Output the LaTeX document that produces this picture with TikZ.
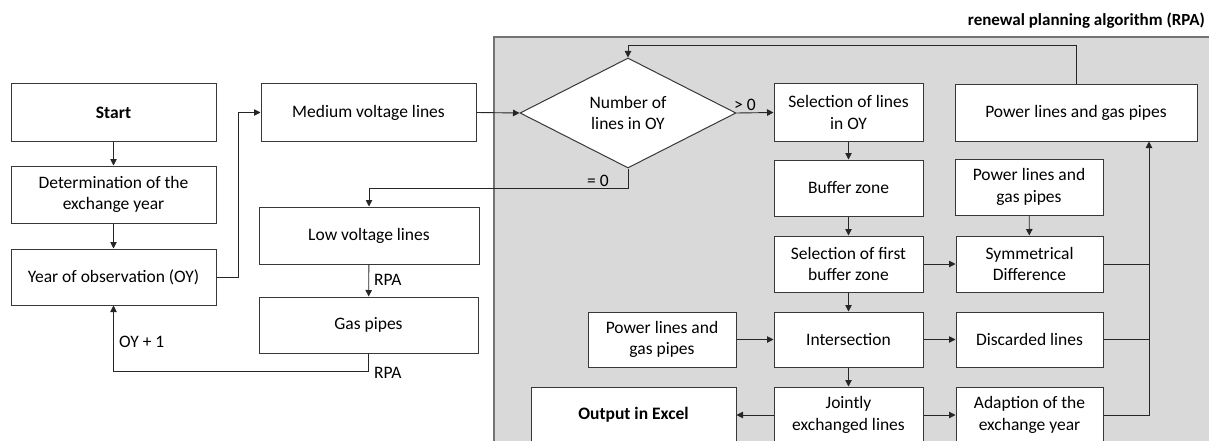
\documentclass[tikz,border=0pt]{standalone}
\usepackage{fontspec}
\setmainfont{Carlito}
\usetikzlibrary{arrows.meta,shapes.geometric}
\begin{document}
\begin{tikzpicture}[x=1pt,y=-1pt,
  txt/.style={font=\fontsize{17.5}{21.5}\selectfont},
  box/.style={txt,draw=black!78,line width=1pt,fill=white,inner sep=0pt,align=center},
  cbox/.style={box,minimum width=149pt,minimum height=56pt},
  arr/.style={-{Triangle[length=6.5pt,width=6.5pt]},line width=0.9pt,draw=black!85},
  ln/.style={line width=0.9pt,draw=black!85},
  lbl/.style={txt,inner sep=0pt}]
\useasboundingbox (0,0) rectangle (1209,441);
\clip (0,0) rectangle (1209,441);
% RPA region
\fill[black!15] (494,37) rectangle (1230,460);
\draw[black!55,line width=1.2pt] (1230,37) -- (494,37) -- (494,460);
\node[anchor=base east,inner sep=0pt,font=\fontsize{17}{20}\selectfont\bfseries] (title) at (1205,26) {renewal planning algorithm (RPA)};
% left part
\node[box,minimum width=205pt,minimum height=57pt] (start) at (113.5,112.5) {\textbf{Start}};
\node[box,minimum width=205pt,minimum height=57pt] (det) at (113.5,194.5) {Determination of the\\exchange year};
\node[box,minimum width=205pt,minimum height=56pt] (year) at (113.5,277) {Year of observation (OY)};
\node[box,minimum width=215pt,minimum height=57pt] (medium) at (368.5,112.5) {Medium voltage lines};
\node[box,minimum width=220pt,minimum height=57pt] (low) at (369,235.5) {Low voltage lines};
\node[box,minimum width=219pt,minimum height=56pt] (gas) at (368.5,325) {Gas pipes};
% RPA part
\node[txt,draw=black!78,line width=1pt,fill=white,diamond,aspect=2,inner sep=0pt,
  minimum width=216pt,minimum height=110pt,align=center] (dia) at (628,113) {Number of\\lines in OY};
\node[cbox,minimum height=57pt] (sel) at (848.5,112.5) {Selection of lines\\in OY};
\node[box,minimum width=242pt,minimum height=56pt] (pgtop) at (1076,113) {Power lines and gas pipes};
\node[cbox] (buffer) at (848.5,188) {Buffer zone};
\node[cbox,minimum width=148pt] (pg2) at (1029,187) {Power lines and\\gas pipes};
\node[cbox] (selfirst) at (848.5,264) {Selection of first\\buffer zone};
\node[cbox,minimum width=147pt] (sym) at (1029.5,264) {Symmetrical\\Difference};
\node[cbox,minimum height=55pt] (inter) at (848.5,339.5) {Intersection};
\node[cbox,minimum width=148pt,minimum height=55pt] (pgleft) at (662,339.5) {Power lines and\\gas pipes};
\node[cbox,minimum width=147pt,minimum height=55pt] (disc) at (1029.5,339.5) {Discarded lines};
\node[cbox] (joint) at (848.5,415) {Jointly\\exchanged lines};
\node[cbox,minimum width=147pt] (adapt) at (1029.5,415) {Adaption of the\\exchange year};
\node[box,minimum width=205pt,minimum height=56pt] (output) at (633.5,415) {\textbf{Output in Excel}};
\coordinate (tk) at (1149,0);
% connectors left
\draw[arr] (start) -- (det);
\draw[arr] (det) -- (year);
\draw[arr] (year.east) -| ([xshift=-22pt]medium.west) -- (medium.west);
\draw[arr] (medium.east) -- (dia.west);
\draw[arr] (dia.east) -- (sel.west);
\node[lbl] (gt) at (745,105) {> 0};
\draw[arr] (dia.south) -- ++(0,20) -| (low.north);
\node[lbl] (eq) at (598,181) {= 0};
\draw[arr] (low) -- (gas);
\node[lbl,anchor=west] (rpa1) at (374,280) {RPA};
\draw[arr] (gas.south) -- ++(0,18) -| (year.south);
\node[lbl,anchor=west] (oy) at (119,342) {OY + 1};
\node[lbl,anchor=west] (rpa2) at (374,373) {RPA};
% connectors RPA
\draw[arr] (pgtop.north) -- ++(0,-39) -| (dia.north);
\draw[arr] (sel) -- (buffer);
\draw[arr] (buffer) -- (selfirst);
\draw[arr] (pg2) -- (sym);
\draw[arr] (selfirst) -- (sym);
\draw[arr] (selfirst) -- (inter);
\draw[arr] (pgleft) -- (inter);
\draw[arr] (inter) -- (disc);
\draw[arr] (inter) -- (joint);
\draw[arr] (joint) -- (output);
\draw[arr] (joint) -- (adapt);
\draw[arr] (adapt.east) -| (pgtop.south -| tk);
\draw[ln] (sym.east) -- (sym.east -| tk);
\draw[ln] (disc.east) -- (disc.east -| tk);
\end{tikzpicture}
\end{document}
